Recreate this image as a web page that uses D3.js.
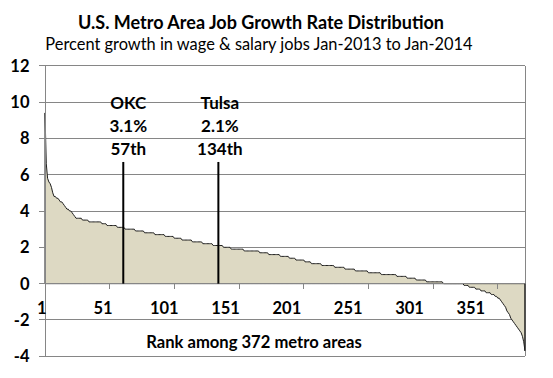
<!DOCTYPE html>
<html><head><meta charset="utf-8">
<script src="https://cdn.jsdelivr.net/npm/d3@7/dist/d3.min.js"></script>
<style>
body{margin:0;background:#fff}
svg{display:block}
text{font-family:Lato,"Open Sans",sans-serif;fill:#000}
</style>
</head><body>
<svg id="chart" width="553" height="378"></svg>
<script>
// Job growth rate (%) of each metro area, in rank order 1..372
const rates = [
 9.4,6.6,5.8,5.6,5.5,5.3,5.0,4.8,4.8,4.7,4.7,4.6,4.5,4.5,4.4,4.3,4.2,4.1,4.1,4.0,4.0,3.9,3.8,3.7,
 3.6,3.6,3.6,3.6,3.6,
 3.5,3.5,3.5,3.5,3.5,
 3.4,3.4,3.4,3.4,3.4,3.4,3.4,3.4,3.4,3.4,
 3.3,3.3,3.3,3.3,
 3.2,3.2,3.2,3.2,3.2,3.2,3.2,3.2,
 3.1,3.1,3.1,3.1,3.1,3.1,
 3.0,3.0,3.0,3.0,3.0,3.0,3.0,3.0,
 2.9,2.9,2.9,2.9,2.9,2.9,2.9,
 2.8,2.8,2.8,2.8,2.8,2.8,2.8,2.8,
 2.7,2.7,2.7,2.7,2.7,2.7,2.7,2.7,
 2.6,2.6,2.6,2.6,2.6,2.6,2.6,
 2.5,2.5,2.5,2.5,2.5,2.5,
 2.4,2.4,2.4,2.4,2.4,2.4,2.4,2.4,
 2.3,2.3,2.3,2.3,2.3,2.3,2.3,2.3,
 2.2,2.2,2.2,2.2,2.2,2.2,2.2,2.2,
 2.1,2.1,2.1,2.1,2.1,2.1,2.1,2.1,
 2.0,2.0,2.0,2.0,2.0,2.0,
 1.9,1.9,1.9,1.9,1.9,1.9,1.9,1.9,1.9,1.9,
 1.8,1.8,1.8,1.8,1.8,1.8,1.8,1.8,1.8,1.8,1.8,1.8,
 1.7,1.7,1.7,1.7,1.7,1.7,1.7,
 1.6,1.6,1.6,1.6,1.6,1.6,1.6,1.6,1.6,
 1.5,1.5,1.5,1.5,1.5,1.5,1.5,
 1.4,1.4,1.4,1.4,1.4,
 1.3,1.3,1.3,1.3,1.3,1.3,1.3,
 1.2,1.2,1.2,1.2,1.2,
 1.1,1.1,1.1,1.1,1.1,1.1,1.1,1.1,
 1.0,1.0,1.0,1.0,1.0,1.0,1.0,1.0,1.0,1.0,
 0.9,0.9,0.9,0.9,0.9,0.9,0.9,0.9,
 0.8,0.8,0.8,0.8,0.8,0.8,0.8,0.8,
 0.7,0.7,0.7,0.7,0.7,0.7,0.7,0.7,0.7,0.7,
 0.6,0.6,0.6,0.6,0.6,0.6,0.6,0.6,0.6,0.6,
 0.5,0.5,0.5,0.5,0.5,0.5,0.5,0.5,0.5,0.5,0.5,0.5,
 0.4,0.4,0.4,0.4,0.4,0.4,0.4,0.4,
 0.3,0.3,0.3,0.3,0.3,0.3,0.3,
 0.2,0.2,0.2,0.2,0.2,0.2,0.2,0.2,
 0.1,0.1,0.1,0.1,0.1,0.1,0.1,0.1,0.1,0.1,0.1,0.1,0.1,
 0.0,0.0,0.0,0.0,0.0,0.0,0.0,0.0,0.0,0.0,0.0,0.0,0.0,0.0,0.0,0.0,
 -0.1,-0.1,-0.1,-0.1,
 -0.2,-0.2,-0.2,-0.2,-0.2,
 -0.3,-0.3,-0.3,-0.3,
 -0.4,-0.4,-0.4,-0.4,
 -0.5,-0.5,-0.5,-0.5,
 -0.6,-0.6,-0.6,
 -0.7,-0.7,
 -0.8,-0.8,
 -0.9,-1.0,-1.1,-1.2,-1.3,-1.5,-1.6,-1.7,-1.9,-2.0,-2.1,-2.2,-2.3,-2.4,-2.5,-2.6,-2.7,-2.9,-3.2,-3.7
];
const yTicks = [-4,-2,0,2,4,6,8,10,12];
const xTickRanks = [51,101,151,201,251,301,351];
const xTickLabels = ["1","51","101","151","201","251","301","351"];
const metros = ["OKC","Tulsa"];
const metroRates = ["3.1%","2.1%"];
const metroPlaces = ["57th","134th"];
const metroMarkerRank = [61.5,135];
const titleText = "U.S. Metro Area Job Growth Rate Distribution";
const subtitleText = "Percent growth in wage & salary jobs Jan-2013 to Jan-2014";
const xTitle = "Rank among 372 metro areas";

const svg = d3.select("#chart");
const x = d3.scaleLinear().domain([1, rates.length]).range([45, 525]);
const y = d3.scaleLinear().domain([-4, 12]).range([356.3, 65.7]);
const gridColor = "#868686";

// gridlines
svg.append("g").selectAll("line").data(yTicks.filter(t => t !== 0)).join("line")
  .attr("x1", 45).attr("x2", 525).attr("y1", d => y(d)).attr("y2", d => y(d))
  .attr("stroke", gridColor).attr("stroke-width", 1).attr("shape-rendering", "crispEdges");

// area
const area = d3.area().x((d, i) => x(i + 1)).y0(y(0)).y1(d => y(d));
svg.append("path").datum(rates).attr("d", area)
  .attr("fill", "#DDD9C3").attr("stroke", "#1e1e1e").attr("stroke-width", 1).attr("stroke-linejoin", "round");

// axes lines
svg.append("line").attr("x1", 45).attr("x2", 525).attr("y1", y(0)).attr("y2", y(0))
  .attr("stroke", gridColor).attr("shape-rendering", "crispEdges");
svg.append("line").attr("x1", x(1)).attr("x2", x(1)).attr("y1", y(12)).attr("y2", y(-4))
  .attr("stroke", gridColor).attr("shape-rendering", "crispEdges");
svg.append("line").attr("x1", 525).attr("x2", 525).attr("y1", y(12)).attr("y2", y(-4))
  .attr("stroke", gridColor).attr("shape-rendering", "crispEdges");
// right edge of the area over the border
svg.append("line").attr("x1", x(rates.length)).attr("x2", x(rates.length))
  .attr("y1", y(0)).attr("y2", y(rates[rates.length - 1]))
  .attr("stroke", "#1e1e1e").attr("stroke-width", 1);

// y ticks + labels
svg.append("g").selectAll("line").data(yTicks).join("line")
  .attr("x1", 39).attr("x2", 45).attr("y1", d => y(d)).attr("y2", d => y(d))
  .attr("stroke", gridColor).attr("shape-rendering", "crispEdges");
svg.append("g").selectAll("text").data(yTicks).join("text")
  .attr("x", 29.5).attr("y", d => y(d)).attr("dy", "0.36em")
  .attr("text-anchor", "end").attr("font-weight", "bold").attr("font-size", "16.5px")
  .text(d => d);

// x ticks + labels
svg.append("g").selectAll("line").data(xTickRanks).join("line")
  .attr("x1", d => x(d)).attr("x2", d => x(d)).attr("y1", y(0)).attr("y2", y(0) + 5)
  .attr("stroke", gridColor).attr("shape-rendering", "crispEdges");
const xl = d3.scaleLinear().domain([0, xTickLabels.length - 1]).range([41.7, 470.8]);
svg.append("g").selectAll("text").data(xTickLabels).join("text")
  .attr("x", (d, i) => xl(i)).attr("y", 308.3).attr("dy", "0.36em")
  .attr("text-anchor", "middle").attr("font-weight", "bold").attr("font-size", "16.5px")
  .text(d => d);

svg.append("text").attr("x", 254).attr("y", 341.7).attr("dy", "0.36em")
  .attr("text-anchor", "middle").attr("font-weight", "bold").attr("font-size", "16.6px")
  .text(xTitle);

// annotations
const textDx = [5, 1.5];
metros.forEach((m, i) => {
  const mx = x(metroMarkerRank[i]);
  svg.append("line").attr("x1", mx).attr("x2", mx).attr("y1", y(0)).attr("y2", y(6.7))
    .attr("stroke", "#000").attr("stroke-width", 2);
  [m, metroRates[i], metroPlaces[i]].forEach((t, j) => {
    svg.append("text").attr("x", mx + textDx[i]).attr("y", 102.5 + j * 23.3).attr("dy", "0.36em")
      .attr("text-anchor", "middle").attr("font-weight", "bold").attr("font-size", "17px")
      .text(t);
  });
});

// titles
svg.append("text").attr("x", 261).attr("y", 22.5).attr("dy", "0.36em")
  .attr("text-anchor", "middle").attr("font-weight", "bold").attr("font-size", "18px")
  .text(titleText);
svg.append("text").attr("x", 259).attr("y", 44.5).attr("dy", "0.36em")
  .attr("text-anchor", "middle").attr("font-size", "16.4px")
  .text(subtitleText);
</script>
</body></html>
